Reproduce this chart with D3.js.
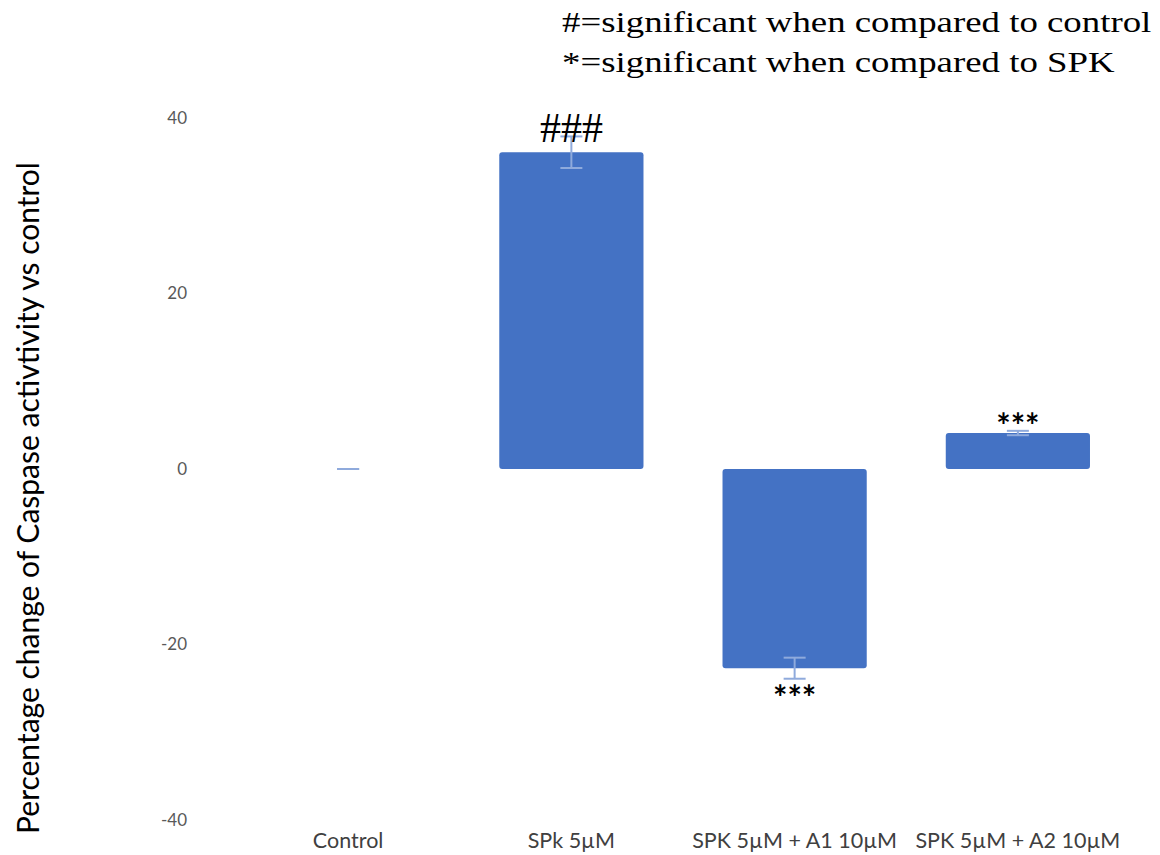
<!DOCTYPE html>
<html>
<head>
<meta charset="utf-8">
<script src="https://cdn.jsdelivr.net/npm/d3@7"></script>
<style>
  html, body { margin: 0; padding: 0; background: #fff; }
  svg { display: block; }
</style>
</head>
<body>
<svg id="chart" width="1160" height="855"></svg>
<script>
// Caspase activity, percent change vs control
const groups = ["Control", "SPk 5\u00B5M", "SPK 5\u00B5M + A1 10\u00B5M", "SPK 5\u00B5M + A2 10\u00B5M"];
const values = [0, 36.1, -22.7, 4.1];
const errors = [0, 1.8, 1.2, 0.25];
const marks = ["", "###", "***", "***"];
const yTicks = [-40, -20, 0, 20, 40];
const legendLines = ["#=significant when compared to control", "*=significant when compared to SPK"];

const svg = d3.select("#chart");
const barColor = "#4472C4";
const errColor = "#8FAADC";
const sans = "Lato, 'Open Sans', sans-serif";
const serif = "'Liberation Serif', 'Times New Roman', serif";

const x = d3.scaleBand().domain(groups).range([236.5, 1129.5]).paddingInner(0.354).paddingOuter(0.177);
const y = d3.scaleLinear().domain([-40, 40]).range([820, 118]);

// y tick labels (no axis line, no gridlines)
const yAxis = d3.axisLeft(y).tickValues(yTicks).tickSize(0).tickPadding(0).tickFormat(d => String(d));
const gy = svg.append("g").attr("transform", "translate(187,0)").call(yAxis);
gy.select(".domain").remove();
gy.selectAll("text")
  .attr("font-family", sans)
  .attr("font-size", 17)
  .attr("fill", "#595959");

// x category labels
const xAxis = d3.axisBottom(x).tickSize(0).tickPadding(0);
const gx = svg.append("g").attr("transform", "translate(0,833)").call(xAxis);
gx.select(".domain").remove();
gx.selectAll("text")
  .attr("font-family", sans)
  .attr("font-size", 21.5)
  .attr("fill", "#404040");

// bars
const data = groups.map((g, i) => ({ g, v: values[i], e: errors[i], m: marks[i] }));
svg.append("g").selectAll("rect")
  .data(data.filter(d => d.v !== 0))
  .join("rect")
  .attr("x", d => x(d.g))
  .attr("width", x.bandwidth())
  .attr("y", d => y(Math.max(0, d.v)))
  .attr("height", d => Math.abs(y(d.v) - y(0)))
  .attr("rx", 3)
  .attr("fill", barColor);

// error bars
const capW = 11;
const eb = svg.append("g").attr("stroke", errColor).attr("stroke-width", 2).attr("fill", "none");
data.forEach(d => {
  const cx = x(d.g) + x.bandwidth() / 2;
  const y1 = y(d.v + d.e), y2 = y(d.v - d.e);
  eb.append("line").attr("x1", cx).attr("x2", cx).attr("y1", y1).attr("y2", y2);
  eb.append("line").attr("x1", cx - capW).attr("x2", cx + capW).attr("y1", y1).attr("y2", y1);
  eb.append("line").attr("x1", cx - capW).attr("x2", cx + capW).attr("y1", y2).attr("y2", y2);
});

// significance marks
data.filter(d => d.m).forEach(d => {
  const cx = x(d.g) + x.bandwidth() / 2;
  const hash = d.m.startsWith("#");
  const t = svg.append("text")
    .attr("x", cx)
    .attr("text-anchor", "middle")
    .attr("fill", "#000")
    .text(d.m);
  if (hash) {
    t.attr("y", y(d.v + d.e) + 6)
     .attr("font-family", serif)
     .attr("font-size", 42);
  } else if (d.v < 0) {
    t.attr("y", y(d.v - d.e) + 31)
     .attr("font-family", sans)
     .attr("font-weight", "bold")
     .attr("font-size", 34);
  } else {
    t.attr("y", y(d.v + d.e) + 7)
     .attr("font-family", sans)
     .attr("font-weight", "bold")
     .attr("font-size", 34);
  }
});

// y axis title
svg.append("text")
  .attr("transform", "translate(39,498) rotate(-90)")
  .attr("text-anchor", "middle")
  .attr("font-family", sans)
  .attr("font-size", 30)
  .attr("fill", "#000")
  .text("Percentage change of Caspase activtivity vs control");

// legend text (wide serif)
svg.append("g").selectAll("text")
  .data(legendLines)
  .join("text")
  .attr("transform", (d, i) => `translate(562,${32 + i * 40}) scale(1.228,1)`)
  .attr("font-family", serif)
  .attr("font-size", 30)
  .attr("fill", "#000")
  .text(d => d);
</script>
</body>
</html>
